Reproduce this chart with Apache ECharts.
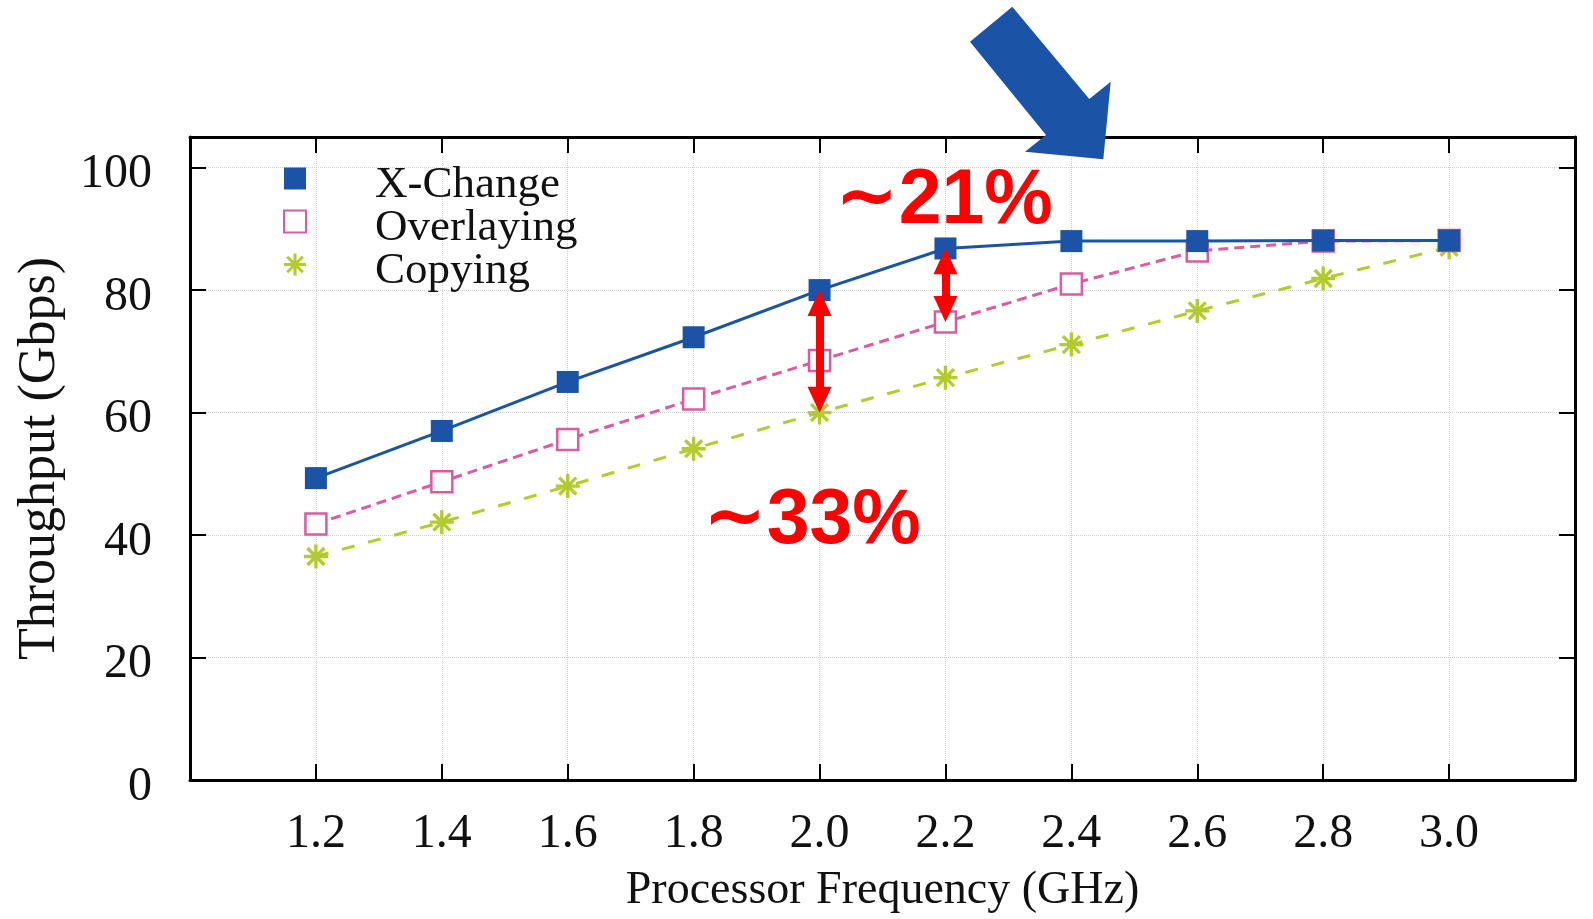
<!DOCTYPE html>
<html>
<head>
<meta charset="utf-8">
<script src="https://cdn.jsdelivr.net/npm/echarts@6/dist/echarts.min.js"></script>
<style>
    html, body { margin: 0; padding: 0; background: #fff; }
    #chart { width: 1593px; height: 919px; }
</style>
</head>
<body>
<div id="chart"></div>
<script>
// Data
// ------------------------------

var frequencies = [1.2, 1.4, 1.6, 1.8, 2.0, 2.2, 2.4, 2.6, 2.8, 3.0];
var xchangeValues = [49.3, 57.0, 65.0, 72.3, 80.0, 86.8, 88.0, 88.0, 88.1, 88.1];
var overlayingValues = [41.8, 48.7, 55.6, 62.2, 68.5, 74.8, 81.0, 86.4, 88.0, 88.1];
var copyingValues = [36.5, 42.1, 48.0, 54.1, 60.0, 65.7, 71.1, 76.6, 81.9, 87.0];
var seriesNames = ['X-Change', 'Overlaying', 'Copying'];

// gap arrows: [frequency, from, to]
var gapArrows = [[2.0, 80.0, 60.0], [2.2, 86.8, 74.8]];
var gapLabels = ['33%', '21%'];

var serifFont = '"Liberation Serif", "DejaVu Serif", serif';
var blue = '#1b54a6';
var pink = '#de5a9e';
var green = '#b3cb2c';

// asterisk marker (+ and x overlapped)
var asterisk = 'path://M43 0L57 0L57 100L43 100Z' +
    'M0 43L100 43L100 57L0 57Z' +
    'M19.6 9.7L90.3 80.4L80.4 90.3L9.7 19.6Z' +
    'M90.3 19.6L19.6 90.3L9.7 80.4L80.4 9.7Z';

function pairs(values) {
    return frequencies.map(function(f, i) { return [f, values[i]]; });
}

var chart = echarts.init(document.getElementById('chart'));

// arrow heads are centred on the end points, so pull them in a bit
var headInset = 2.1;
var arrowLines = gapArrows.map(function(a) {
    return [{ coord: [a[0], a[1] - headInset] }, { coord: [a[0], a[2] + headInset] }];
});

var gapRich = {
    t: { fontFamily: '"DejaVu Sans", sans-serif', fontWeight: 'bold', fontSize: 76, fill: '#ff0000' },
    n: { fontFamily: '"Liberation Sans", Arial, sans-serif', fontWeight: 'bold', fontSize: 77, fill: '#ff0000' }
};

var option = {
    animation: false,
    textStyle: { fontFamily: serifFont },
    grid: { left: 190, right: 18, top: 137, bottom: 138, show: false },

    legend: {
        orient: 'vertical',
        left: 283,
        top: 149,
        padding: 0,
        itemGap: -16,
        itemWidth: 22,
        itemHeight: 22,
        selectedMode: false,
        data: [
            { name: seriesNames[0], icon: 'rect' },
            { name: seriesNames[1], icon: 'rect' },
            { name: seriesNames[2], icon: asterisk }
        ],
        formatter: function(name) {
            return '{a|' + name + '}';
        },
        textStyle: {
            fontFamily: serifFont,
            fontSize: 45,
            color: '#111',
            padding: [0, 0, 0, 64],
            rich: {
                a: {
                    fontFamily: serifFont,
                    fontSize: 45,
                    color: '#111',
                    lineHeight: 27,
                    padding: [14, 0, 0, 0]
                }
            }
        }
    },

    xAxis: [{
        type: 'value',
        min: 1.0,
        max: 3.2,
        interval: 0.2,
        position: 'bottom',
        name: 'Processor Frequency (GHz)',
        nameLocation: 'middle',
        nameGap: 88,
        nameTextStyle: { fontFamily: serifFont, fontSize: 46, color: '#111' },
        axisLine: { onZero: false, lineStyle: { color: '#000', width: 3 } },
        axisTick: { inside: true, length: 16, lineStyle: { color: '#000', width: 2 } },
        axisLabel: {
            margin: 30,
            fontSize: 48,
            color: '#111',
            fontFamily: serifFont,
            formatter: function(v) {
                if (v < 1.1 || v > 3.1) return '';
                return v.toFixed(1);
            }
        },
        splitLine: { show: true, lineStyle: { color: '#cfcfcf', type: 'dotted', width: 1 } }
    }, {
        type: 'value',
        min: 1.0,
        max: 3.2,
        interval: 0.2,
        position: 'top',
        axisLine: { onZero: false, lineStyle: { color: '#000', width: 3 } },
        axisTick: { inside: true, length: 16, lineStyle: { color: '#000', width: 2 } },
        axisLabel: { show: false },
        splitLine: { show: false }
    }],

    yAxis: [{
        type: 'value',
        min: 0,
        max: 105,
        interval: 20,
        position: 'left',
        name: 'Throughput (Gbps)',
        nameLocation: 'middle',
        nameGap: 124,
        nameTextStyle: { fontFamily: serifFont, fontSize: 52, color: '#111' },
        axisLine: { onZero: false, lineStyle: { color: '#000', width: 3 } },
        axisTick: { inside: true, length: 16, lineStyle: { color: '#000', width: 2 } },
        axisLabel: {
            margin: 38,
            fontSize: 48,
            color: '#111',
            fontFamily: serifFont,
            verticalAlign: 'top',
            lineHeight: 14,
            formatter: function(v) {
                return v > 100 ? '' : String(v);
            }
        },
        splitLine: { show: true, lineStyle: { color: '#cfcfcf', type: 'dotted', width: 1 } }
    }, {
        type: 'value',
        min: 0,
        max: 105,
        interval: 20,
        position: 'right',
        axisLine: { onZero: false, lineStyle: { color: '#000', width: 3 } },
        axisTick: { inside: true, length: 16, lineStyle: { color: '#000', width: 2 } },
        axisLabel: { show: false },
        splitLine: { show: false }
    }],

    series: [{
        name: seriesNames[0],
        type: 'line',
        data: pairs(xchangeValues),
        symbol: 'rect',
        symbolSize: 22,
        z: 4,
        itemStyle: { color: blue },
        lineStyle: { color: blue, width: 3 },
        markLine: {
            silent: true,
            symbol: ['triangle', 'triangle'],
            symbolSize: [24, 26],
            label: { show: false },
            lineStyle: { color: '#ff0000', width: 8, type: 'solid' },
            data: arrowLines,
            z: 10
        }
    }, {
        name: seriesNames[1],
        type: 'line',
        data: pairs(overlayingValues),
        symbol: 'rect',
        symbolSize: 21,
        z: 3,
        itemStyle: { color: '#fff', borderColor: pink, borderWidth: 2.5 },
        lineStyle: { color: pink, width: 3, type: [10, 6] }
    }, {
        name: seriesNames[2],
        type: 'line',
        data: pairs(copyingValues),
        symbol: asterisk,
        symbolSize: 24,
        z: 2,
        itemStyle: { color: green },
        lineStyle: { color: green, width: 3, type: [13, 14] }
    }],

    graphic: [{
        // big blue pointer above the plot
        type: 'polygon',
        z: 100,
        shape: {
            points: [[970, 41.7], [1012.3, 6.7], [1089.3, 99], [1110.7, 81.7],
                     [1103.3, 159.3], [1025, 151.7], [1046, 135]]
        },
        style: { fill: blue }
    }, {
        type: 'text',
        z: 100,
        left: 835,
        top: 163,
        style: {
            text: '{t|~}{n|' + gapLabels[1] + '}',
            rich: gapRich,
            fill: '#ff0000'
        }
    }, {
        type: 'text',
        z: 100,
        left: 703,
        top: 483,
        style: {
            text: '{t|~}{n|' + gapLabels[0] + '}',
            rich: gapRich,
            fill: '#ff0000'
        }
    }]
};

chart.setOption(option);
</script>
</body>
</html>
